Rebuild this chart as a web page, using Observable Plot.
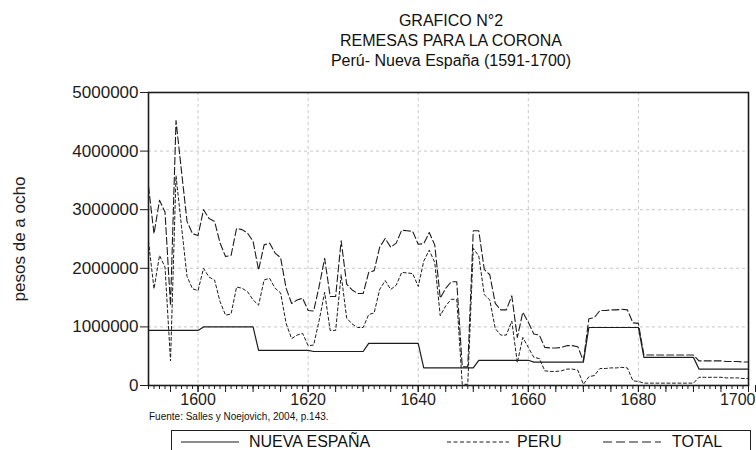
<!DOCTYPE html>
<html>
<head>
<meta charset="utf-8">
<script src="https://cdn.jsdelivr.net/npm/d3@7"></script>
<script src="https://cdn.jsdelivr.net/npm/@observablehq/plot@0.6"></script>
<style>
  html, body { margin: 0; padding: 0; background: #fff; }
  body { width: 756px; height: 450px; overflow: hidden; font-family: "Liberation Sans", Arial, sans-serif; color: #111; }
  #title { height: 76px; box-sizing: border-box; padding-top: 11px; margin-left: 146px; width: 610px; text-align: center; font-size: 16px; line-height: 20px; }
  #chart svg { display: block; }
  #caption { margin-left: 149px; font-size: 10px; line-height: 12px; height: 14px; padding-top: 2px; box-sizing: border-box; }
  #legend { position: absolute; left: 171px; top: 430px; width: 580px; height: 30px; border: 1.2px solid #222; box-sizing: border-box; font-size: 16px; }
  #legend .item { position: absolute; top: 2px; line-height: 18px; }
  #legend svg { position: absolute; top: 0; }
</style>
</head>
<body>
<div id="title">GRAFICO N°2<br>REMESAS PARA LA CORONA<br>Perú- Nueva España (1591-1700)</div>
<div id="chart"></div>
<div id="caption">Fuente: Salles y Noejovich, 2004, p.143.</div>
<div id="legend"></div>
<script>
// ---- data (pesos de a ocho), one value per year from firstYear to lastYear ----
const firstYear = 1591;
const lastYear = 1700;
const seriesNames = ["NUEVA ESPAÑA", "PERU", "TOTAL"];
const nuevaEspana = [
  940000, 940000, 940000, 940000, 940000, 940000, 940000, 940000, 940000, 940000,
  1000000, 1000000, 1000000, 1000000, 1000000, 1000000, 1000000, 1000000, 1000000, 1000000,
  600000, 600000, 600000, 600000, 600000, 600000, 600000, 600000, 600000, 600000,
  580000, 580000, 580000, 580000, 580000, 580000, 580000, 580000, 580000, 580000,
  720000, 720000, 720000, 720000, 720000, 720000, 720000, 720000, 720000, 720000,
  300000, 300000, 300000, 300000, 300000, 300000, 300000, 300000, 300000, 300000,
  430000, 430000, 430000, 430000, 430000, 430000, 430000, 430000, 430000, 430000,
  400000, 400000, 400000, 400000, 400000, 400000, 400000, 400000, 400000, 400000,
  990000, 990000, 990000, 990000, 990000, 990000, 990000, 990000, 990000, 990000,
  480000, 480000, 480000, 480000, 480000, 480000, 480000, 480000, 480000, 480000,
  280000, 280000, 280000, 280000, 280000, 280000, 280000, 280000, 280000, 280000
];
const peru = [
  2460000, 1650000, 2220000, 2020000, 420000, 3580000, 2710000, 1860000, 1650000, 1620000,
  2000000, 1850000, 1800000, 1430000, 1200000, 1220000, 1680000, 1660000, 1600000, 1460000,
  1370000, 1800000, 1830000, 1660000, 1580000, 1060000, 800000, 860000, 890000, 680000,
  690000, 1110000, 1590000, 940000, 940000, 1890000, 1150000, 1050000, 990000, 990000,
  1210000, 1240000, 1640000, 1790000, 1640000, 1710000, 1930000, 1920000, 1910000, 1690000,
  2120000, 2310000, 2100000, 1190000, 1360000, 1470000, 1470000, 20000, 20000, 2340000,
  2210000, 1550000, 1460000, 970000, 860000, 860000, 1100000, 390000, 820000, 650000,
  480000, 460000, 250000, 240000, 240000, 250000, 280000, 280000, 260000, 20000,
  150000, 170000, 290000, 290000, 300000, 300000, 310000, 300000, 80000, 70000,
  40000, 40000, 40000, 40000, 40000, 40000, 40000, 40000, 40000, 40000,
  140000, 140000, 140000, 140000, 140000, 130000, 130000, 130000, 120000, 120000
];
const total = [
  3400000, 2590000, 3160000, 2960000, 1360000, 4520000, 3650000, 2800000, 2590000, 2560000,
  3000000, 2850000, 2800000, 2430000, 2200000, 2220000, 2680000, 2660000, 2600000, 2460000,
  1970000, 2400000, 2430000, 2260000, 2180000, 1660000, 1400000, 1460000, 1490000, 1280000,
  1270000, 1690000, 2170000, 1520000, 1520000, 2470000, 1730000, 1630000, 1570000, 1570000,
  1930000, 1960000, 2360000, 2510000, 2360000, 2430000, 2650000, 2640000, 2630000, 2410000,
  2420000, 2610000, 2400000, 1490000, 1660000, 1770000, 1770000, 320000, 320000, 2640000,
  2640000, 1980000, 1890000, 1400000, 1290000, 1290000, 1530000, 820000, 1250000, 1080000,
  880000, 860000, 650000, 640000, 640000, 650000, 680000, 680000, 660000, 420000,
  1140000, 1160000, 1280000, 1280000, 1290000, 1290000, 1300000, 1290000, 1070000, 1060000,
  520000, 520000, 520000, 520000, 520000, 520000, 520000, 520000, 520000, 520000,
  420000, 420000, 420000, 420000, 420000, 410000, 410000, 410000, 400000, 400000
];
const yTickValues = [0, 1000000, 2000000, 3000000, 4000000, 5000000];
const xLabelYears = [1600, 1620, 1640, 1660, 1680];
const xLastLabel = [1700];
const yLabel = "pesos de a ocho";

// ---- build table ----
const years = d3.range(firstYear, lastYear + 1);
const rows = years.map((year, i) => ({year, ne: nuevaEspana[i], peru: peru[i], total: total[i]}));
const fiveYearTicks = years.filter(y => y % 5 === 0);

const ink = "#1c1c1c";
const chart = Plot.plot({
  width: 756,
  height: 333,
  marginLeft: 148,
  marginRight: 8,
  marginTop: 16,
  marginBottom: 24,
  x: {domain: [firstYear, lastYear]},
  y: {domain: [0, 5000000]},
  style: {fontFamily: "'Liberation Sans', Arial, sans-serif", fontSize: "16px", color: ink, background: "white", overflow: "visible"},
  marks: [
    Plot.gridX(xLabelYears, {stroke: "#c8c8c8", strokeOpacity: 1, strokeDasharray: "3,3"}),
    Plot.gridY(yTickValues, {stroke: "#c8c8c8", strokeOpacity: 1, strokeDasharray: "3,3"}),
    Plot.axisX(years, {tickSize: 4, tickFormat: () => "", label: null, stroke: ink}),
    Plot.axisX(fiveYearTicks, {tickSize: 7, tickFormat: () => "", label: null, stroke: ink}),
    Plot.axisX(xLabelYears, {tickSize: 7, tickPadding: 1, tickFormat: d => String(d), label: null, fontSize: 16, stroke: ink, fill: ink}),
    Plot.axisX(xLastLabel, {tickSize: 7, tickPadding: 1, tickFormat: d => String(d), label: null, fontSize: 16, stroke: ink, fill: ink, textAnchor: "end", dx: 7}),
    Plot.axisY(yTickValues, {tickSize: 8, tickPadding: 2, tickFormat: d => String(d), fontSize: 17, stroke: ink, fill: ink,
      label: yLabel, labelAnchor: "center", labelArrow: "none", labelOffset: 136}),
    Plot.lineY(rows, {x: "year", y: "ne", stroke: ink, strokeWidth: 1.2}),
    Plot.lineY(rows, {x: "year", y: "peru", stroke: ink, strokeWidth: 1, strokeDasharray: "3,2.5"}),
    Plot.lineY(rows, {x: "year", y: "total", stroke: ink, strokeWidth: 1.1, strokeDasharray: "7,3"}),
    Plot.frame({stroke: ink, strokeWidth: 1.6})
  ]
});
document.getElementById("chart").append(chart);

// ---- legend ----
const legend = document.getElementById("legend");
const legendItems = [
  {name: seriesNames[0], dash: null, lineLeft: 9, lineWidth: 58, textLeft: 77},
  {name: seriesNames[1], dash: "4,2.5", lineLeft: 275, lineWidth: 62, textLeft: 345},
  {name: seriesNames[2], dash: "9,4", lineLeft: 431, lineWidth: 58, textLeft: 500}
];
for (const it of legendItems) {
  const ns = "http://www.w3.org/2000/svg";
  const s = document.createElementNS(ns, "svg");
  s.setAttribute("width", it.lineWidth);
  s.setAttribute("height", 22);
  s.style.left = it.lineLeft + "px";
  const l = document.createElementNS(ns, "line");
  l.setAttribute("x1", 0); l.setAttribute("x2", it.lineWidth);
  l.setAttribute("y1", 11); l.setAttribute("y2", 11);
  l.setAttribute("stroke", ink); l.setAttribute("stroke-width", 1.2);
  if (it.dash) l.setAttribute("stroke-dasharray", it.dash);
  s.append(l);
  legend.append(s);
  const t = document.createElement("div");
  t.className = "item";
  t.style.left = it.textLeft + "px";
  t.textContent = it.name;
  legend.append(t);
}
</script>
</body>
</html>
